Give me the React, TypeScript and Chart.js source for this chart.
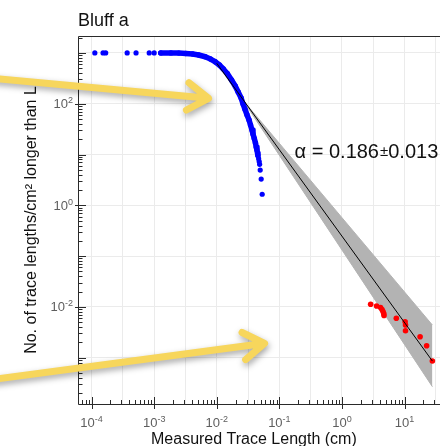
import React, { useEffect, useRef } from 'react';
import { Chart, registerables } from 'chart.js';

Chart.register(...registerables);

// ---------- text ----------
const TITLE = 'Bluff a';
const X_TITLE = 'Measured Trace Length (cm)';
const Y_TITLE = 'No. of trace lengths/cm² longer than L';
const FIT_TEXT = ['α = 0.186', '±', '0.013'];
const FIT_TEXT_AT = [0.175, 8.5];

// ---------- axes ----------
const X_MIN = 6.07e-5;
const X_MAX = 36.8;
const Y_MIN = 1.227e-4;
const Y_MAX = 2153;
const X_LABEL_EXPONENTS = [-4, -3, -2, -1, 0, 1];
const X_GRID_EXPONENTS = [-4, -3.5, -3, -2.5, -2, -1.5, -1, -0.5, 0, 0.5, 1, 1.5];
const Y_DECADE_EXPONENTS = [-3, -2, -1, 0, 1, 2, 3];
const Y_LABEL_EXPONENTS = [-2, 0, 2];

// ---------- data ----------
// isolated blue points on the plateau and the tail of the measured curve
const bluePointsX = [1.127e-4, 1.525e-4, 1.681e-4, 3.703e-4, 5.135e-4, 8.33e-4, 1.0e-3,
  0.04663, 0.04764, 0.04834, 0.0494, 0.05123, 0.05313];
const bluePointsY = [1000, 1000, 1000, 1000, 1000, 1000, 1000,
  8.27, 7.28, 6.41, 4.95, 3.29, 1.65];
// densely sampled part of the blue curve
const blueCurveX = [1.274e-3, 1.854e-3, 2.479e-3, 3.197e-3, 4.124e-3, 5.129e-3, 6.544e-3, 7.93e-3,
  9.415e-3, 0.01101, 0.01273, 0.01472, 0.01721, 0.01969, 0.02196, 0.02449, 0.02634, 0.02833,
  0.03047, 0.03276, 0.0346, 0.03654, 0.03789, 0.03972, 0.0415, 0.04273, 0.04383, 0.0448, 0.04545];
const blueCurveY = [1000, 1000, 991, 977, 951, 909, 842, 759,
  671, 578, 482, 393, 293, 223, 170, 129.5, 98.6, 76.9,
  59.9, 47.8, 38.1, 30.4, 25.3, 20.6, 16.8, 14.0, 12.3, 10.7, 9.56];
// red points
const redX = [2.87, 3.57, 4.13, 4.36, 4.52, 4.65, 4.69, 7.38, 10.2, 10.35, 10.35, 17.7, 22.5, 27.8];
const redY = [0.01125, 0.01041, 0.00973, 0.00889, 0.00812, 0.00742, 0.00677, 0.00597, 0.00511,
  0.0044, 0.0034, 0.00259, 0.00172, 0.000861];
// power-law fit and its confidence band
const fitX = [0.01, 27.8];
const fitY = [624, 0.000861];
const bandX = [0.01, 0.02833, 27.8];
const bandUpper = [640, 105, 0.0044];
const bandLower = [610, 101, 0.000269];
// annotation arrows: tail and tip in data coordinates
const arrowTails = [[2.5e-6, 319], [2.5e-6, 3.7e-4]];
const arrowTips = [[7.38e-3, 127.7], [0.058, 1.92e-3]];

// ---------- styles ----------
const FONT = '"Liberation Sans", Arial, Helvetica, sans-serif';
const BLUE = '#0000ff';
const RED = '#ff0000';
const BAND = '#b3b3b3';
const GRID = '#ebebeb';
const AXIS = '#2a2a2a';
const TICK_TEXT = '#5e5e5e';
const ARROW = 'rgb(247,214,92)';

const pts = (xs: number[], ys: number[]) => xs.map((x, i) => ({ x, y: ys[i] }));

function drawPower(ctx: CanvasRenderingContext2D, exp: number, x: number, baseline: number, align: string) {
  const baseFont = `13px ${FONT}`;
  const expFont = `9px ${FONT}`;
  ctx.font = baseFont;
  const wb = ctx.measureText('10').width;
  const es = String(exp);
  ctx.font = expFont;
  const we = ctx.measureText(es).width;
  const total = wb + we;
  const left = align === 'center' ? x - total / 2 : x - total;
  ctx.textAlign = 'left';
  ctx.font = baseFont;
  ctx.fillText('10', left, baseline);
  ctx.font = expFont;
  ctx.fillText(es, left + wb, baseline - 5);
}

function drawArrow(ctx: CanvasRenderingContext2D, x0: number, y0: number, x1: number, y1: number) {
  const ang = Math.atan2(y1 - y0, x1 - x0);
  const L = 25;
  const spread = 0.58;
  ctx.save();
  ctx.strokeStyle = ARROW;
  ctx.lineWidth = 7;
  ctx.lineCap = 'round';
  ctx.lineJoin = 'round';
  ctx.shadowColor = 'rgba(0,0,0,0.35)';
  ctx.shadowBlur = 6;
  ctx.shadowOffsetX = 1;
  ctx.shadowOffsetY = 3;
  ctx.beginPath();
  ctx.moveTo(x0, y0);
  ctx.lineTo(x1 - 3 * Math.cos(ang), y1 - 3 * Math.sin(ang));
  ctx.moveTo(x1 - L * Math.cos(ang - spread), y1 - L * Math.sin(ang - spread));
  ctx.lineTo(x1, y1);
  ctx.lineTo(x1 - L * Math.cos(ang + spread), y1 - L * Math.sin(ang + spread));
  ctx.stroke();
  ctx.restore();
}

const overlay = {
  id: 'overlay',
  afterDraw(chart: any) {
    const ctx: CanvasRenderingContext2D = chart.ctx;
    const ca = chart.chartArea;
    const xs = chart.scales.x;
    const ys = chart.scales.y;
    ctx.save();

    // spines
    ctx.strokeStyle = AXIS;
    ctx.lineWidth = 1;
    ctx.beginPath();
    ctx.moveTo(ca.left + 0.5, ca.top + 0.5);
    ctx.lineTo(ca.right, ca.top + 0.5);
    ctx.moveTo(ca.left + 0.5, ca.top + 0.5);
    ctx.lineTo(ca.left + 0.5, ca.bottom + 0.5);
    ctx.lineTo(ca.right, ca.bottom + 0.5);
    ctx.stroke();

    // x ticks
    ctx.beginPath();
    for (let e = -5; e <= 2; e++) {
      for (let m = 1; m <= 9; m++) {
        const v = m * Math.pow(10, e);
        if (v < X_MIN || v > X_MAX) continue;
        const px = Math.round(xs.getPixelForValue(v)) + 0.5;
        if (m === 1) {
          ctx.moveTo(px, ca.bottom - 7);
          ctx.lineTo(px, ca.bottom + 5);
        } else {
          ctx.moveTo(px, ca.bottom - 4);
          ctx.lineTo(px, ca.bottom);
        }
      }
    }
    // y ticks
    for (let e = -5; e <= 4; e++) {
      for (let m = 1; m <= 9; m++) {
        const v = m * Math.pow(10, e);
        if (v < Y_MIN || v > Y_MAX) continue;
        const py = Math.round(ys.getPixelForValue(v)) + 0.5;
        if (m === 1) {
          const labelled = Y_LABEL_EXPONENTS.includes(e);
          ctx.moveTo(ca.left - (labelled ? 3 : 0), py);
          ctx.lineTo(ca.left + 8, py);
        } else {
          ctx.moveTo(ca.left, py);
          ctx.lineTo(ca.left + 4.5, py);
        }
      }
    }
    ctx.stroke();

    // tick labels
    ctx.fillStyle = TICK_TEXT;
    ctx.textBaseline = 'alphabetic';
    X_LABEL_EXPONENTS.forEach((e) => {
      drawPower(ctx, e, xs.getPixelForValue(Math.pow(10, e)), ca.bottom + 23, 'center');
    });
    Y_LABEL_EXPONENTS.forEach((e) => {
      drawPower(ctx, e, ca.left - 5, ys.getPixelForValue(Math.pow(10, e)) + 4.5, 'right');
    });

    // titles
    ctx.fillStyle = '#111111';
    ctx.font = `18px ${FONT}`;
    ctx.textAlign = 'left';
    ctx.fillText(TITLE, ca.left, ca.top - 10);

    ctx.font = `16px ${FONT}`;
    ctx.textAlign = 'left';
    ctx.fillText(X_TITLE, ca.left + 73, ca.bottom + 39.5);

    ctx.save();
    ctx.translate(36, (ca.top + ca.bottom) / 2);
    ctx.rotate(-Math.PI / 2);
    ctx.textAlign = 'center';
    ctx.fillText(Y_TITLE, 0, 0);
    ctx.restore();

    // fit annotation
    let tx = xs.getPixelForValue(FIT_TEXT_AT[0]);
    const ty = ys.getPixelForValue(FIT_TEXT_AT[1]);
    ctx.fillStyle = '#111111';
    ctx.textAlign = 'left';
    ctx.font = `20px ${FONT}`;
    ctx.fillText(FIT_TEXT[0], tx, ty);
    tx += ctx.measureText(FIT_TEXT[0]).width + 1;
    ctx.font = `15px ${FONT}`;
    ctx.fillText(FIT_TEXT[1], tx, ty - 2);
    tx += ctx.measureText(FIT_TEXT[1]).width;
    ctx.font = `20px ${FONT}`;
    ctx.fillText(FIT_TEXT[2], tx, ty);

    // arrows
    arrowTails.forEach((t, i) => {
      const tip = arrowTips[i];
      drawArrow(ctx, xs.getPixelForValue(t[0]), ys.getPixelForValue(t[1]),
        xs.getPixelForValue(tip[0]), ys.getPixelForValue(tip[1]));
    });

    ctx.restore();
  },
};

export default function App() {
  const ref = useRef<HTMLCanvasElement>(null);

  useEffect(() => {
    const chart = new Chart(ref.current as HTMLCanvasElement, {
      type: 'scatter',
      data: {
        datasets: [
          {
            label: 'band upper',
            data: pts(bandX, bandUpper),
            showLine: true,
            borderColor: BAND,
            borderWidth: 1,
            backgroundColor: BAND,
            pointRadius: 0,
            fill: '+1',
            order: 5,
          } as any,
          {
            label: 'band lower',
            data: pts(bandX, bandLower),
            showLine: true,
            borderColor: BAND,
            borderWidth: 1,
            pointRadius: 0,
            fill: false,
            order: 6,
          },
          {
            label: 'fit',
            data: pts(fitX, fitY),
            showLine: true,
            borderColor: '#000000',
            borderWidth: 1,
            pointRadius: 0,
            order: 0,
          },
          {
            label: 'red',
            data: pts(redX, redY),
            pointRadius: 2.8,
            pointBackgroundColor: RED,
            pointBorderColor: RED,
            pointBorderWidth: 0,
            order: 1,
          },
          {
            label: 'blue points',
            data: pts(bluePointsX, bluePointsY),
            pointRadius: 2.6,
            pointBackgroundColor: BLUE,
            pointBorderColor: BLUE,
            pointBorderWidth: 0,
            order: 3,
          },
          {
            label: 'blue curve',
            data: pts(blueCurveX, blueCurveY),
            showLine: true,
            borderColor: BLUE,
            borderWidth: 5.5,
            borderCapStyle: 'round',
            borderJoinStyle: 'round',
            pointRadius: 2.7,
            pointBackgroundColor: BLUE,
            pointBorderColor: BLUE,
            pointBorderWidth: 0,
            order: 4,
          } as any,
        ],
      },
      options: {
        responsive: false,
        devicePixelRatio: 1,
        animation: false,
        layout: { padding: { top: 36, left: 0, right: 0, bottom: 0 } },
        plugins: {
          legend: { display: false },
          tooltip: { enabled: false },
        },
        scales: {
          x: {
            type: 'logarithmic',
            min: X_MIN,
            max: X_MAX,
            afterBuildTicks: (s: any) => {
              s.ticks = X_GRID_EXPONENTS.map((e) => ({ value: Math.pow(10, e) }));
            },
            afterFit: (s: any) => {
              s.height = 42;
            },
            ticks: { display: false, autoSkip: false },
            grid: { color: GRID, lineWidth: 1, drawTicks: false },
            border: { display: false },
          },
          y: {
            type: 'logarithmic',
            min: Y_MIN,
            max: Y_MAX,
            afterBuildTicks: (s: any) => {
              s.ticks = Y_DECADE_EXPONENTS.map((e) => ({ value: Math.pow(10, e) }));
            },
            afterFit: (s: any) => {
              s.width = 78;
            },
            ticks: { display: false, autoSkip: false },
            grid: { color: GRID, lineWidth: 1, drawTicks: false },
            border: { display: false },
          },
        },
      } as any,
      plugins: [overlay],
    });
    return () => chart.destroy();
  }, []);

  return (
    <div
      style={{
        position: 'fixed',
        left: 0,
        top: 0,
        width: 444,
        height: 446,
        overflow: 'hidden',
        background: '#ffffff',
      }}
    >
      <canvas ref={ref} width={444} height={446} style={{ display: 'block' }} />
    </div>
  );
}
